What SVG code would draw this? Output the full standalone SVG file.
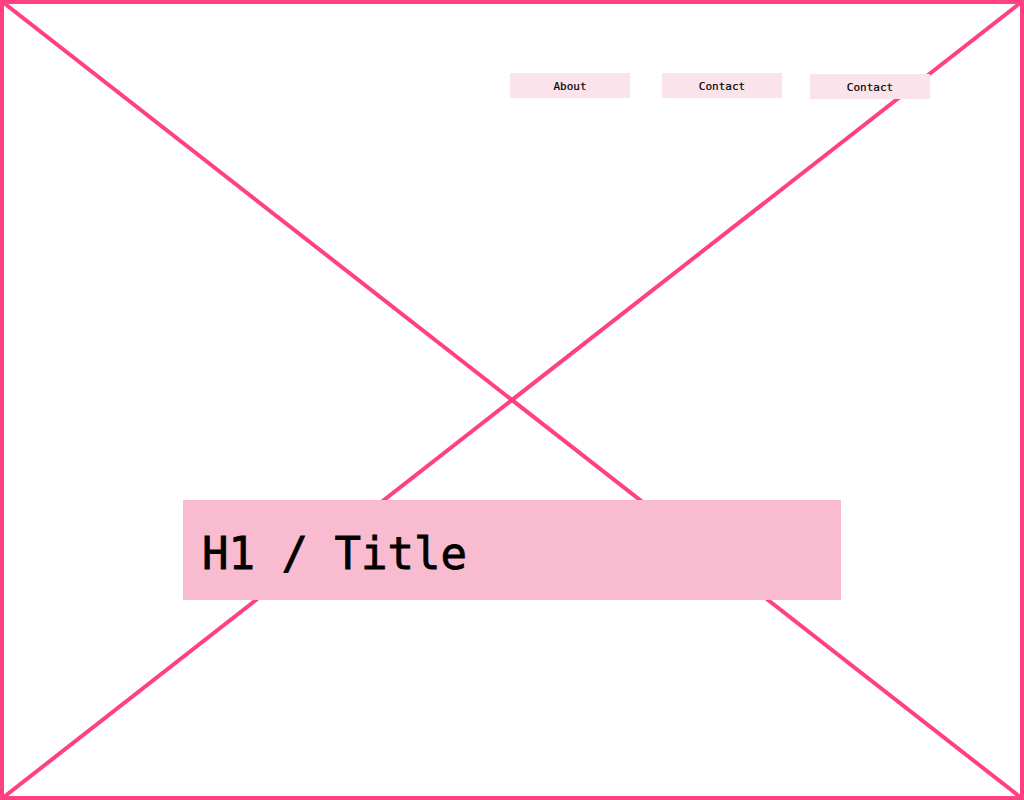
<svg xmlns="http://www.w3.org/2000/svg" width="1024" height="800" viewBox="0 0 1024 800">
<style>
.ln{stroke:#ff4081;stroke-width:4;fill:none}
.btn{fill:#fae3eb}
.bt{font-family:"DejaVu Sans Mono","Liberation Mono",monospace;font-size:11px;fill:#000;text-anchor:middle;stroke:#000;stroke-width:0.2}
.h1{font-family:"DejaVu Sans Mono","Liberation Mono",monospace;font-size:44px;fill:#000;stroke:#000;stroke-width:0.8}
</style>
<rect width="1024" height="800" fill="#fff"/>
<g id="connectors">
<line class="ln" x1="0" y1="0" x2="1024" y2="800"/>
<line class="ln" x1="1024" y1="0" x2="0" y2="800"/>
<rect class="ln" x="2" y="2" width="1020" height="796"/>
</g>
<g id="nav-about"><rect class="btn" x="510" y="73" width="120" height="25"/><text class="bt" x="570" y="90">About</text></g>
<g id="nav-contact"><rect class="btn" x="662" y="73" width="120" height="25"/><text class="bt" x="722" y="90">Contact</text></g>
<g id="nav-contact2"><rect class="btn" x="810" y="74" width="120" height="25"/><text class="bt" x="870" y="91">Contact</text></g>
<g id="title"><rect x="183" y="500" width="658" height="100" fill="#f8bbd0"/><text class="h1" x="202" y="569">H1 / Title</text></g>
</svg>
